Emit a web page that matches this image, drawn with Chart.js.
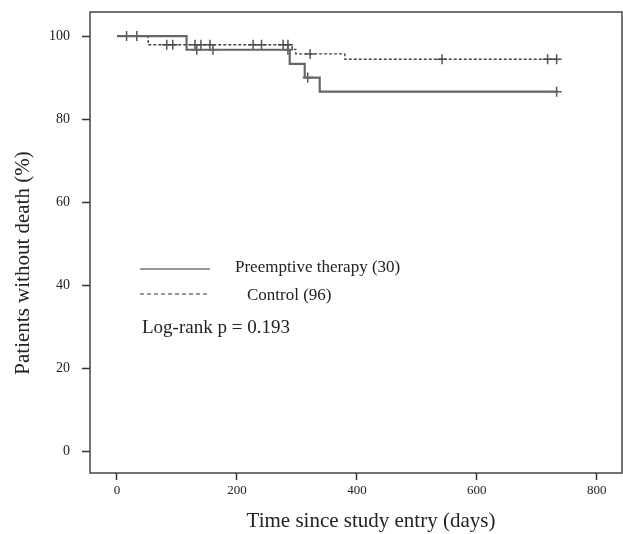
<!DOCTYPE html>
<html>
<head>
<meta charset="utf-8">
<script src="https://cdn.jsdelivr.net/npm/chart.js@4.4.1/dist/chart.umd.min.js"></script>
<style>
  html, body { margin: 0; padding: 0; background: #fff; }
  #wrap { width: 623px; height: 534px; }
</style>
</head>
<body>
<div id="wrap"><canvas id="kmChart" width="623" height="534"></canvas></div>
<script>
// Kaplan-Meier data
const preTimes = [0, 116, 288, 313, 338, 735];
const preSurv = [100, 96.7, 93.3, 90.0, 86.6, 86.6];
const preCensorTimes = [16, 33, 133, 160, 285, 318, 733];
const preCensorSurv = [100, 100, 96.7, 96.7, 96.7, 90.0, 86.6];

const ctrlTimes = [0, 52, 292, 298, 380, 735];
const ctrlSurv = [100, 97.9, 96.8, 95.7, 94.4, 94.4];
const ctrlCensorTimes = [83, 93, 130, 140, 155, 227, 241, 277, 285, 322, 542, 718, 733];
const ctrlCensorSurv = [97.9, 97.9, 97.9, 97.9, 97.9, 97.9, 97.9, 97.9, 97.9, 95.7, 94.4, 94.4, 94.4];

const xTicks = [0, 200, 400, 600, 800];
const yTicks = [0, 20, 40, 60, 80, 100];

function toPoints(xs, ys) {
    return xs.map((x, i) => ({ x: x, y: ys[i] }));
}

const serif = "'Liberation Serif', 'DejaVu Serif', serif";

// box around the plot, axis titles and the in-plot legend text
const boxAndLegend = {
    id: "boxAndLegend",
    afterDraw(chart) {
        const ctx = chart.ctx;
        const a = chart.chartArea;
        ctx.save();
        ctx.strokeStyle = "#444";
        ctx.lineWidth = 1.5;
        ctx.strokeRect(a.left, a.top, a.right - a.left, a.bottom - a.top);

        ctx.strokeStyle = "#333";
        ctx.lineWidth = 1.2;
        ctx.beginPath();
        ctx.moveTo(140, 269);
        ctx.lineTo(210, 269);
        ctx.stroke();
        ctx.setLineDash([4, 3]);
        ctx.beginPath();
        ctx.moveTo(140, 294);
        ctx.lineTo(210, 294);
        ctx.stroke();
        ctx.setLineDash([]);

        ctx.fillStyle = "#222";
        ctx.textBaseline = "middle";
        ctx.font = "17px " + serif;
        ctx.fillText("Preemptive therapy (30)", 235, 268);
        ctx.fillText("Control (96)", 247, 296);
        ctx.font = "19px " + serif;
        ctx.fillText("Log-rank p = 0.193", 142, 328);

        // axis titles
        ctx.textAlign = "center";
        ctx.font = "21px " + serif;
        ctx.fillText("Time since study entry (days)", 371, 521);
        ctx.translate(23, 263);
        ctx.rotate(-Math.PI / 2);
        ctx.fillText("Patients without death (%)", 0, 0);
        ctx.restore();
    }
};

new Chart(document.getElementById("kmChart"), {
    type: "line",
    data: {
        datasets: [
            {
                label: "Preemptive therapy (30)",
                data: toPoints(preTimes, preSurv),
                stepped: true,
                borderColor: "#666",
                borderWidth: 2.2,
                pointRadius: 0,
                fill: false
            },
            {
                label: "Control (96)",
                data: toPoints(ctrlTimes, ctrlSurv),
                stepped: true,
                borderColor: "#444",
                borderWidth: 1.4,
                borderDash: [3, 2],
                pointRadius: 0,
                fill: false
            },
            {
                type: "scatter",
                label: "pre censored",
                data: toPoints(preCensorTimes, preCensorSurv),
                pointStyle: "cross",
                pointRadius: 5,
                borderColor: "#555",
                borderWidth: 1.5,
                showLine: false
            },
            {
                type: "scatter",
                label: "ctrl censored",
                data: toPoints(ctrlCensorTimes, ctrlCensorSurv),
                pointStyle: "cross",
                pointRadius: 5,
                borderColor: "#555",
                borderWidth: 1.5,
                showLine: false
            }
        ]
    },
    options: {
        responsive: false,
        animation: false,
        layout: { autoPadding: false, padding: { top: 12, right: 1, left: 0, bottom: 0 } },
        plugins: {
            legend: { display: false },
            tooltip: { enabled: false }
        },
        scales: {
            x: {
                type: "linear",
                min: -45,
                max: 842,
                afterBuildTicks: scale => { scale.ticks = xTicks.map(v => ({ value: v })); },
                afterFit: scale => {
                    scale.height = 61;
                    scale.paddingLeft = 0;
                    scale.paddingRight = 0;
                },
                grid: { drawOnChartArea: false, drawTicks: true, tickLength: 7, tickColor: "#333", tickWidth: 1.5 },
                border: { display: false },
                ticks: { color: "#222", padding: 3, font: { family: serif, size: 13 } }
            },
            y: {
                min: -5.3,
                max: 105.8,
                afterBuildTicks: scale => { scale.ticks = yTicks.map(v => ({ value: v })); },
                afterFit: scale => {
                    scale.width = 90;
                    scale.paddingTop = 0;
                    scale.paddingBottom = 0;
                },
                grid: { drawOnChartArea: false, drawTicks: true, tickLength: 8, tickColor: "#333", tickWidth: 1.5 },
                border: { display: false },
                ticks: { color: "#222", padding: 12, font: { family: serif, size: 14 } }
            }
        }
    },
    plugins: [boxAndLegend]
});
</script>
</body>
</html>
